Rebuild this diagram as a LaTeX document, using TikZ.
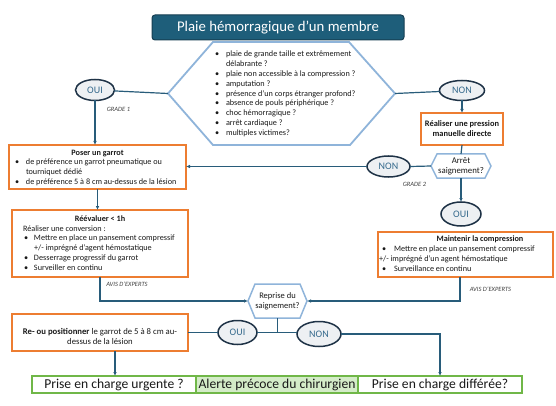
\documentclass[tikz,border=0pt]{standalone}
\usepackage{fontspec}
\setmainfont{Carlito}
\usetikzlibrary{arrows.meta,calc,shapes.geometric}
\definecolor{titlefill}{RGB}{30,94,122}
\definecolor{titledraw}{RGB}{22,62,82}
\definecolor{conn}{RGB}{40,92,122}
\definecolor{elldraw}{RGB}{30,50,70}
\definecolor{ellfill}{RGB}{237,240,243}
\definecolor{elltext}{RGB}{52,105,140}
\definecolor{hexdraw}{RGB}{143,180,218}
\definecolor{orangeb}{RGB}{237,125,49}
\definecolor{greenb}{RGB}{112,183,72}
\definecolor{greenf}{RGB}{212,236,200}
\definecolor{txt}{RGB}{25,25,25}
\newcommand{\sm}{\fontsize{8.2}{9.9}\selectfont}
\begin{document}
\begin{tikzpicture}[x=1pt,y=-1pt,
  every node/.style={inner sep=0pt,outer sep=0pt,text=txt},
  titlebox/.style={draw=titledraw,fill=titlefill,rounded corners=3pt,line width=1pt,
    minimum width=252,minimum height=25,text=white,font=\fontsize{14.8}{16}\selectfont},
  ell/.style={ellipse,draw=elldraw,fill=ellfill,line width=1.5pt,text=elltext,
    font=\fontsize{10}{11}\selectfont},
  obox/.style={draw=orangeb,fill=white,line width=1.5pt},
  gbox/.style={draw=greenb,line width=1.8pt,minimum height=17,font=\fontsize{13.6}{15}\selectfont},
  hexline/.style={draw=hexdraw,fill=white,line width=1.8pt,line join=miter},
  conline/.style={draw=conn,line width=1.2pt},
  arr/.style={conline,-{Latex[length=4pt,width=3.6pt]}},
  note/.style={font=\fontsize{6.5}{7}\selectfont\itshape,text=black!75},
  sm/.style={font=\sm}
]
\useasboundingbox (0,0) rectangle (556,406);

% title
\node[titlebox] (title) at (278,27.5) {Plaie hémorragique d’un membre};

% big hexagon
\node[minimum width=227,minimum height=103] (hex) at (281.5,93.5) {};
\path[hexline] (hex.west) -- ([xshift=45pt]hex.north west) -- ([xshift=-46pt]hex.north east)
  -- (hex.east) -- ([xshift=-45pt]hex.south east) -- ([xshift=45pt]hex.south west) -- cycle;
\node[anchor=north west,sm] (hextext) at (215,49.5) {%
  \begin{tabular}{@{}p{11pt}@{}l@{}}
  \textbullet & plaie de grande taille et extrêmement\\
              & délabrante ?\\
  \textbullet & plaie non accessible à la compression ?\\
  \textbullet & amputation ?\\
  \textbullet & présence d’un corps étranger profond?\\
  \textbullet & absence de pouls périphérique ?\\
  \textbullet & choc hémorragique ?\\
  \textbullet & arrêt cardiaque ?\\
  \textbullet & multiples victimes?
  \end{tabular}};

% ellipses
\node[ell,minimum width=39,minimum height=21] (oui1) at (95,90) {OUI};
\node[ell,minimum width=45,minimum height=20] (non1) at (462,90.5) {NON};
\node[ell,minimum width=43,minimum height=21] (non2) at (388.5,166.5) {NON};
\node[ell,minimum width=40,minimum height=24] (oui2) at (461,214) {OUI};
\node[ell,minimum width=39,minimum height=24] (oui3) at (237.5,332.5) {OUI};
\node[ell,minimum width=44,minimum height=25] (non3) at (319,334) {NON};

% Réaliser une pression
\node[obox,minimum width=82,minimum height=32,align=center,
  font=\fontsize{8.4}{10}\selectfont\bfseries] (real) at (462,129)
  {Réaliser une pression\\manuelle directe};

% Arrêt saignement hexagon
\node[minimum width=60,minimum height=24] (arret) at (461,166) {};
\path[hexline,line width=1.5pt] (arret.west) -- ([xshift=6pt]arret.north west) -- ([xshift=-6pt]arret.north east)
  -- (arret.east) -- ([xshift=-6pt]arret.south east) -- ([xshift=6pt]arret.south west) -- cycle;
\node[align=center,font=\fontsize{8.8}{10}\selectfont] (arrett) at (arret) {Arrêt\\saignement?};

% Poser un garrot
\node[obox,minimum width=177,minimum height=44] (poser) at (97.5,167) {};
\node[font=\sm\bfseries] (posert) at (97.5,154) {Poser un garrot};
\node[anchor=north west,sm] (poserl) at (15,158) {%
  \begin{tabular}{@{}p{11pt}@{}l@{}}
  \textbullet & de préférence un garrot pneumatique ou\\
              & tourniquet dédié\\
  \textbullet & de préférence 5 à 8 cm au-dessus de la lésion
  \end{tabular}};

% Réévaluer
\node[obox,minimum width=176,minimum height=67] (reev) at (100,243.5) {};
\node[font=\sm\bfseries] (reevt) at (100,219) {Réévaluer < 1h};
\node[anchor=west,sm] (reevc) at (23,229) {Réaliser une conversion :};
\node[anchor=north west,sm] (reevl) at (24,233.8) {%
  \begin{tabular}{@{}p{10pt}@{}l@{}}
  \textbullet & Mettre en place un pansement compressif\\
              & +/- imprégné d'agent hémostatique\\
  \textbullet & Desserrage progressif du garrot\\
  \textbullet & Surveiller en continu
  \end{tabular}};

% Maintenir la compression
\node[obox,minimum width=175,minimum height=45] (maint) at (465.5,254.5) {};
\node[font=\sm\bfseries] (maintt) at (480,239.5) {Maintenir la compression};
\node[anchor=north west,sm] (maintl) at (379,244.8) {%
  \begin{tabular}{@{}p{15pt}@{}l@{}}
  \hspace*{3pt}\textbullet & Mettre en place un pansement compressif\\
  \multicolumn{2}{@{}l@{}}{+/- imprégné d'un agent hémostatique}\\
  \hspace*{3pt}\textbullet & Surveillance en continu
  \end{tabular}};

% Reprise du saignement hexagon
\node[minimum width=59,minimum height=34] (repr) at (277.5,301) {};
\path[hexline,line width=1.5pt] (repr.west) -- ([xshift=7pt]repr.north west) -- ([xshift=-7pt]repr.north east)
  -- (repr.east) -- ([xshift=-7pt]repr.south east) -- ([xshift=7pt]repr.south west) -- cycle;
\node[align=center,font=\fontsize{8.5}{10}\selectfont] (reprt) at (repr) {Reprise du\\saignement?};

% Re- ou positionner
\node[obox,minimum width=176,minimum height=37] (repos) at (100,332.5) {};
\node[align=center,font=\fontsize{8.7}{9.6}\selectfont] (repost) at (100,336.5)
  {\textbf{Re- ou positionner} le garrot de 5 à 8 cm au-\\dessus de la lésion};

% bottom boxes
\node[gbox,fill=white,minimum width=164] (pu) at (114,384.5) {Prise en charge urgente ?};
\node[gbox,fill=greenf,minimum width=162] (al) at (277,384.5) {Alerte précoce du chirurgien};
\node[gbox,fill=white,minimum width=164] (pd) at (440,384.5) {Prise en charge différée?};

% notes
\node[note] (g1) at (118.5,109) {GRADE 1};
\node[note] (g2) at (414.5,184) {GRADE 2};
\node[note] (av1) at (127,284) {AVIS D'EXPERTS};
\node[note] (av2) at (490.5,289) {AVIS D'EXPERTS};

% connectors
\draw[conline] (oui1) -- (hex.west);
\draw[conline] (hex.east) -- (non1);
\draw[arr] (oui1.south) -- (oui1.south |- poser.north);
\draw[arr] (non1.south) -- (real.north);
\draw[conline] (real.south) -- (arret.north);
\draw[conline] (arret.west) -- (non2.east);
\draw[arr] (non2.west) -- (non2.west -| poser.east);
\draw[arr] (arret.south) -- (oui2.north);
\draw[arr] (poser.south) -- (poser.south |- reev.north);
\coordinate (c1) at (reev.south |- repr.west);
\draw[arr] (reev.south) -- (c1) -- (repr.west);
\coordinate (m0) at (460,277);
\coordinate (c2) at (m0 |- repr.east);
\draw[arr] (m0) -- (c2) -- (repr.east);
\coordinate (j) at (repr.south |- oui3.east);
\draw[conline] (repr.south) -- (j);
\draw[conline] (j) -- (oui3.east);
\draw[conline] (j) -- (j -| non3.west);
\draw[conline] (oui3.west) -- (oui3.west -| repos.east);
\coordinate (r0) at (115,351);
\draw[arr] (r0) -- (r0 |- pu.north);
\coordinate (c3) at (non3.east -| pd.north);
\draw[arr] (non3.east) -- (c3) -- (pd.north);
\end{tikzpicture}
\end{document}
